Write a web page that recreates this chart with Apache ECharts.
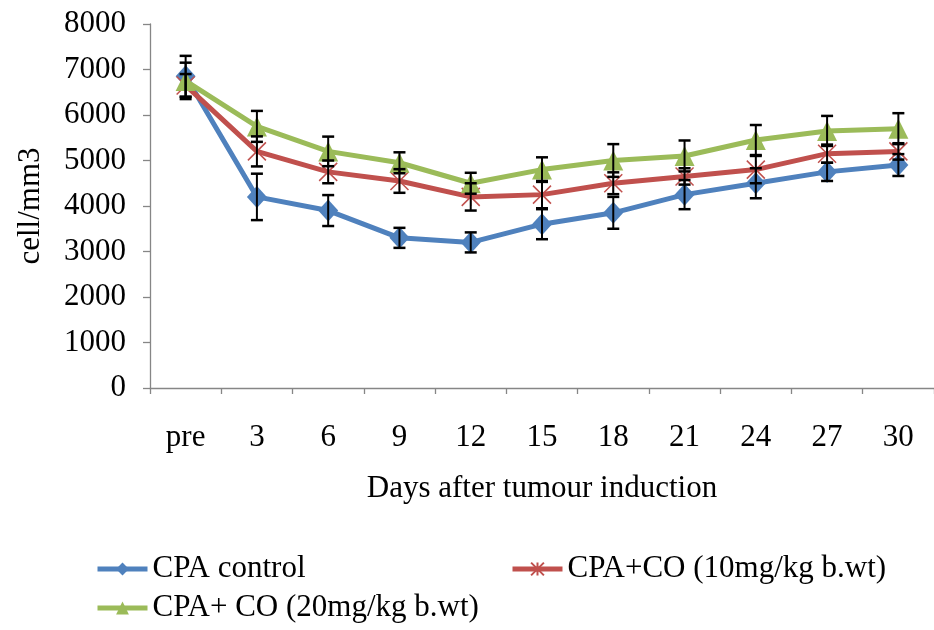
<!DOCTYPE html>
<html>
<head>
<meta charset="utf-8">
<title>Leukocyte count after tumour induction</title>
<script src="https://cdn.jsdelivr.net/npm/echarts@6/dist/echarts.min.js"></script>
<style>
  html, body { margin: 0; padding: 0; background: #ffffff; }
  #chart { width: 934px; height: 630px; }
</style>
</head>
<body>
<div id="chart"></div>
<script>
// Sampling days
var days = ['pre', '3', '6', '9', '12', '15', '18', '21', '24', '27', '30'];

// Mean counts (cell/mm3)
var cpaControl = [6850, 4200, 3900, 3300, 3200, 3600, 3850, 4250, 4500, 4750, 4900];
var cpaCo10    = [6650, 5200, 4750, 4550, 4200, 4250, 4500, 4650, 4800, 5150, 5200];
var cpaCo20    = [6750, 5750, 5200, 4950, 4500, 4800, 5000, 5100, 5450, 5650, 5700];

// Standard errors (cell/mm3)
var cpaControlErr = [450, 510, 340, 220, 220, 330, 350, 320, 330, 200, 240];
var cpaCo10Err    = [250, 330, 250, 260, 300, 300, 240, 180, 300, 200, 180];
var cpaCo20Err    = [400, 340, 325, 230, 230, 270, 360, 340, 330, 330, 340];

var seriesNames = ['CPA control', 'CPA+CO (10mg/kg b.wt)', 'CPA+ CO (20mg/kg b.wt)'];
var yTicks = { min: 0, max: 8000, step: 1000 };

var FONT = '"Liberation Serif", "Times New Roman", serif';
var FONT_SIZE = 31;
var AXIS_GREY = '#868686';

// [index, low, high] rows for the whisker series
function whiskers(means, errs) {
  return means.map(function (m, i) { return [i, m - errs[i], m + errs[i]]; });
}

function renderWhisker(params, api) {
  var x = api.value(0);
  var top = api.coord([x, api.value(2)]);
  var bot = api.coord([x, api.value(1)]);
  var half = 6;
  var st = { stroke: '#000000', lineWidth: 2 };
  var cap = { stroke: '#000000', lineWidth: 2.5 };
  return {
    type: 'group',
    children: [
      { type: 'line', shape: { x1: top[0], y1: top[1], x2: bot[0], y2: bot[1] }, style: st },
      { type: 'line', shape: { x1: top[0] - half, y1: top[1], x2: top[0] + half, y2: top[1] }, style: cap },
      { type: 'line', shape: { x1: bot[0] - half, y1: bot[1], x2: bot[0] + half, y2: bot[1] }, style: cap }
    ]
  };
}

var starSymbol = 'path://M0,0L10,10M10,0L0,10M5,0L5,10';

function lineSeries(name, data, color, symbol, size, extraItem) {
  var item = { color: color };
  if (extraItem) { for (var k in extraItem) item[k] = extraItem[k]; }
  return {
    name: name,
    type: 'line',
    data: data,
    symbol: symbol,
    symbolSize: size,
    showAllSymbol: true,
    lineStyle: { color: color, width: 5 },
    itemStyle: item,
    emphasis: { disabled: true },
    z: 2
  };
}

function whiskerSeries(name, means, errs) {
  return {
    name: name,
    type: 'custom',
    renderItem: renderWhisker,
    data: whiskers(means, errs),
    encode: { x: 0, y: [1, 2] },
    z: 5,
    silent: true
  };
}

var legendText = { fontFamily: FONT, fontSize: FONT_SIZE, color: '#000000', lineHeight: 32 };
function legendRow(name, left, top) {
  return {
    data: [name], left: left, top: top, padding: 0,
    itemWidth: 50, itemHeight: 16,
    lineStyle: { width: 5 },
    textStyle: legendText, selectedMode: false
  };
}

var chart = echarts.init(document.getElementById('chart'), null, { renderer: 'canvas' });
chart.setOption({
  animation: false,
  backgroundColor: '#ffffff',
  grid: { left: 150, top: 24, width: 792, height: 364, containLabel: false },
  legend: [
    legendRow(seriesNames[0], 95, 553),
    legendRow(seriesNames[1], 510, 553),
    legendRow(seriesNames[2], 95, 592)
  ],
  xAxis: {
    type: 'category',
    data: days,
    boundaryGap: true,
    name: 'Days after tumour induction',
    nameLocation: 'middle',
    nameGap: 85,
    nameTextStyle: { fontFamily: FONT, fontSize: FONT_SIZE, color: '#000000' },
    axisLine: { lineStyle: { color: AXIS_GREY, width: 1.3 } },
    axisTick: { show: true, length: 6, alignWithLabel: false, lineStyle: { color: AXIS_GREY, width: 1.3 } },
    axisLabel: { fontFamily: FONT, fontSize: FONT_SIZE, color: '#000000', margin: 34, interval: 0 },
    splitLine: { show: false }
  },
  yAxis: {
    type: 'value',
    min: yTicks.min,
    max: yTicks.max,
    interval: yTicks.step,
    name: 'cell/mm3',
    nameLocation: 'middle',
    nameGap: 104,
    nameRotate: 90,
    nameTextStyle: { fontFamily: FONT, fontSize: FONT_SIZE, color: '#000000' },
    axisLine: { show: true, lineStyle: { color: AXIS_GREY, width: 1.3 } },
    axisTick: { show: true, length: 7, lineStyle: { color: AXIS_GREY, width: 1.3 } },
    axisLabel: {
      fontFamily: FONT, fontSize: FONT_SIZE, color: '#000000', margin: 24,
      formatter: function (v) { return String(v); }
    },
    splitLine: { show: false }
  },
  series: [
    lineSeries(seriesNames[0], cpaControl, '#4F81BD', 'diamond', [20, 22]),
    lineSeries(seriesNames[1], cpaCo10, '#C0504D', starSymbol, 18, { borderColor: '#C0504D', borderWidth: 1.5 }),
    lineSeries(seriesNames[2], cpaCo20, '#9BBB59', 'triangle', 20),
    whiskerSeries('err-control', cpaControl, cpaControlErr),
    whiskerSeries('err-co10', cpaCo10, cpaCo10Err),
    whiskerSeries('err-co20', cpaCo20, cpaCo20Err)
  ]
});
</script>
</body>
</html>
